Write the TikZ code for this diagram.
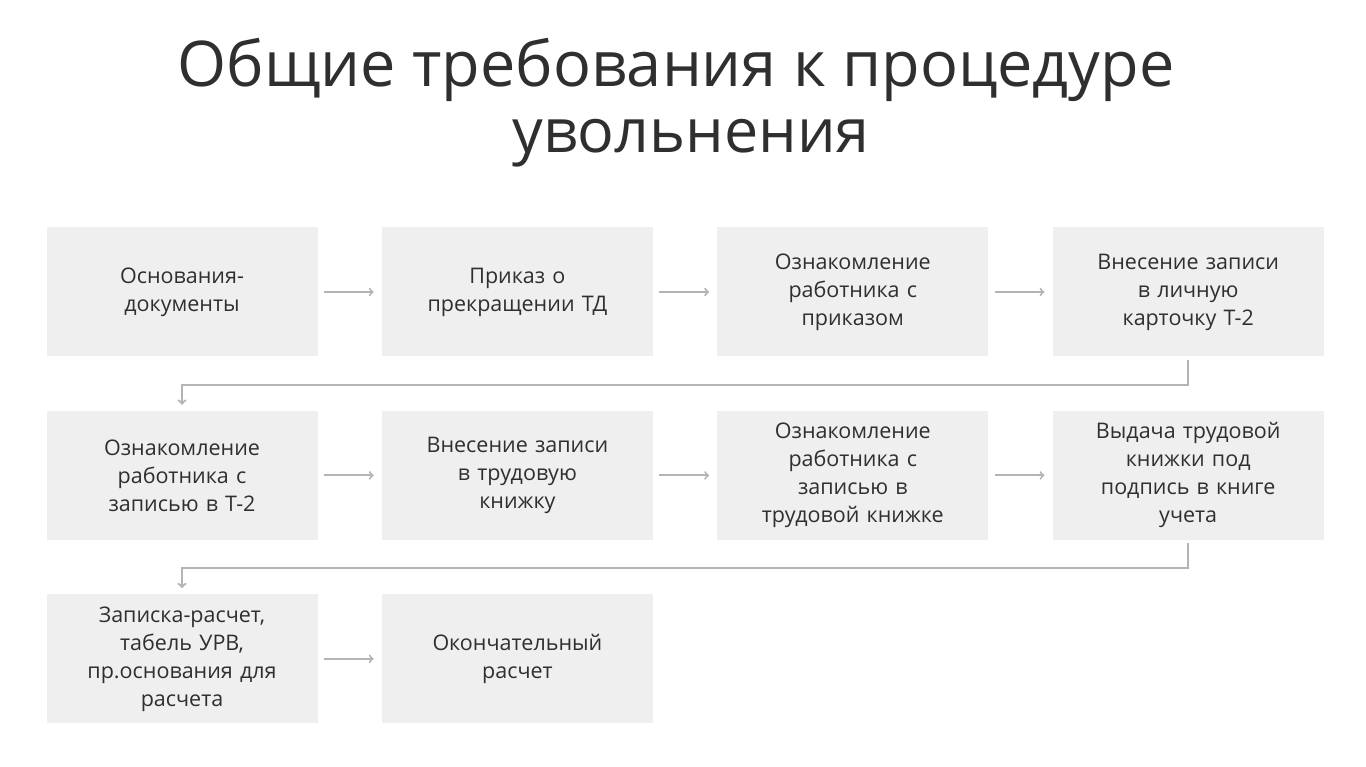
\documentclass[tikz,border=0pt]{standalone}
\usepackage{fontspec}
\setmainfont{Open Sans}
\usepackage{xcolor}
\usetikzlibrary{arrows, positioning}

\definecolor{boxgray}{HTML}{EFEFEF}
\definecolor{textgray}{HTML}{2F2F2F}
\definecolor{linegray}{HTML}{B4B4B4}

\begin{document}
\begin{tikzpicture}[
    x=1pt, y=-1pt,
    node distance=54pt and 64pt,
    box/.style={rectangle, minimum height=129pt, minimum width=271pt,
      text width=255pt, align=center, fill=boxgray, text=textgray,
      font=\fontsize{21.5}{28}\selectfont, inner sep=0pt},
    arrow/.style={line width=2pt, ->, >=to, linegray},
    turn/.style={line width=2.2pt, ->, >=to, linegray}
]
\useasboundingbox (0,0) rectangle (1366,767);

\node[text=textgray, align=center, font=\fontsize{63}{66}\selectfont] (title) at (676,103)
  {Общие требования к процедуре\\\hspace*{30pt}\fontsize{61}{66}\selectfont увольнения};

% first row
\node[box] (osn) at (182,292) {Основания-\\документы};
\node[box, right=of osn] (prikaz) {Приказ о\\прекращении ТД};
\node[box, right=of prikaz] (oznprik) {Ознакомление\\работника с\\приказом};
\node[box, right=of oznprik] (kartT2) {Внесение записи\\в личную\\карточку Т-2};

% second row
\node[box, below=of osn] (oznT2) {Ознакомление\\работника с\\записью в Т-2};
\node[box, right=of oznT2] (trud) {Внесение записи\\в трудовую\\книжку};
\node[box, right=of trud] (ozntrud) {Ознакомление\\работника с\\записью в\\трудовой книжке};
\node[box, right=of ozntrud] (vydacha) {Выдача трудовой\\книжки под\\подпись в книге\\учета};

% third row
\node[box, below=of oznT2] (zapiska) {Записка-расчет,\\табель УРВ,\\пр.основания для\\расчета};
\node[box, right=of zapiska] (itog) {Окончательный\\расчет};

\draw[arrow, shorten <=6pt, shorten >=8pt] (osn) -- (prikaz);
\draw[arrow, shorten <=6pt, shorten >=8pt] (prikaz) -- (oznprik);
\draw[arrow, shorten <=6pt, shorten >=8pt] (oznprik) -- (kartT2);
\draw[turn, shorten <=3pt, shorten >=6pt] (kartT2.south) -- ++(0,28) -| (oznT2.north);
\draw[arrow, shorten <=6pt, shorten >=8pt] (oznT2) -- (trud);
\draw[arrow, shorten <=6pt, shorten >=8pt] (trud) -- (ozntrud);
\draw[arrow, shorten <=6pt, shorten >=8pt] (ozntrud) -- (vydacha);
\draw[turn, shorten <=3pt, shorten >=6pt] (vydacha.south) -- ++(0,28) -| (zapiska.north);
\draw[arrow, shorten <=6pt, shorten >=8pt] (zapiska) -- (itog);
\end{tikzpicture}
\end{document}
